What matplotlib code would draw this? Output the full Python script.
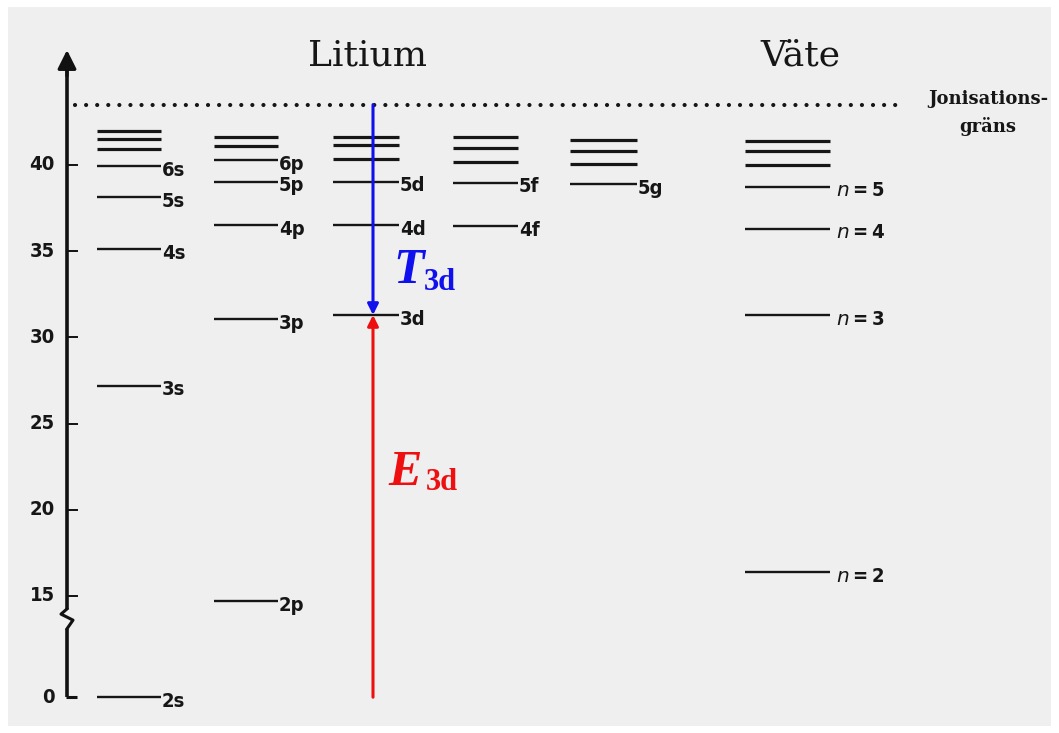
import matplotlib
matplotlib.use("Agg")
import matplotlib.pyplot as plt
from matplotlib.patches import Rectangle

# Energy levels (10^3 cm^-1) per term series
s_energy = [0.0, 27.2, 35.1, 38.15, 39.94, 40.9, 41.5, 42.0]
s_labels = ["2s", "3s", "4s", "5s", "6s"]
p_energy = [14.7, 31.05, 36.5, 39.03, 40.29, 41.12, 41.64]
p_labels = ["2p", "3p", "4p", "5p", "6p"]
d_energy = [31.3, 36.5, 39.03, 40.35, 41.16, 41.64]
d_labels = ["3d", "4d", "5d"]
f_energy = [36.47, 38.97, 40.19, 40.97, 41.6]
f_labels = ["4f", "5f"]
g_energy = [38.9, 40.06, 40.83, 41.45]
g_labels = ["5g"]
h_energy = [16.4, 31.3, 36.3, 38.75, 40.0, 40.83, 41.39]
h_labels = ["2", "3", "4", "5"]
ionization = 43.5
term_3d = 31.3
tick_values = [0, 15, 20, 25, 30, 35, 40]

# Broken axis: the ground state is drawn shifted up so the gap 0..15 is compressed
GROUND_SHIFT = 9.13


def ypos(e):
    return e + GROUND_SHIFT if e < 12 else e


W, H = 1059, 733
fig = plt.figure(figsize=(W / 100, H / 100), dpi=100, facecolor="white")
ax = fig.add_axes([0, 0, 1, 1])
ax.set_xlim(0, W)
ax.set_ylim(40 - 568 / 17.24, 40 + 165 / 17.24)
ax.axis("off")

# paper background
ax.add_patch(Rectangle((8 / W, 7 / H), (W - 16) / W, (H - 14) / H,
                       transform=ax.transAxes, facecolor="#efefef",
                       edgecolor="none", zorder=0))

INK = "#161616"
lab_font = dict(family="DejaVu Sans", fontsize=14.5, fontweight="bold",
                fontstretch="condensed", color=INK)


def draw_column(energies, labels, x0, x1, xl, fmt="{}"):
    for i, e in enumerate(energies):
        lw = 1.7 if i < len(labels) else 2.3
        ax.plot([x0, x1], [ypos(e), ypos(e)], color=INK, lw=lw,
                solid_capstyle="butt", zorder=3)
    for e, lab in zip(energies, labels):
        ax.annotate(fmt.format(lab), (xl, ypos(e)), xytext=(0, -3),
                    textcoords="offset points", ha="left", va="center",
                    zorder=4, **lab_font)


draw_column(s_energy, s_labels, 97, 161, 162)
draw_column(p_energy, p_labels, 214, 278, 279)
draw_column(d_energy, d_labels, 333, 399, 400)
draw_column(f_energy, f_labels, 453, 518, 519)
draw_column(g_energy, g_labels, 570, 637, 638)
draw_column(h_energy, h_labels, 745, 830, 836, fmt="$n$\u2009=\u2009{}")

# ionization limit
ax.plot([75, 905], [ionization, ionization], color=INK, lw=3.0,
        linestyle=(0, (0.01, 2.65)), dash_capstyle="round", zorder=3)
ax.text(988, 43.85, "Jonisations-", family="DejaVu Serif", fontweight="bold",
        fontsize=13, ha="center", va="center", color=INK)
ax.text(988, 42.25, "gräns", family="DejaVu Serif", fontweight="bold",
        fontsize=13, ha="center", va="center", color=INK)

# titles
ax.text(367, 46.35, "Litium", family="DejaVu Serif", fontsize=26,
        ha="center", va="center", color=INK)
ax.text(800, 46.35, "Väte", family="DejaVu Serif", fontsize=26,
        ha="center", va="center", color=INK)

# energy axis with break
xa = 67
top = 46.67
ax.plot([xa, xa], [14.25, top - 1.0], color="#111111", lw=2.6,
        solid_capstyle="butt", zorder=3)
ax.plot([xa, xa - 6, xa + 6, xa], [14.25, 13.95, 13.6, 13.1],
        color="#111111", lw=2.2, zorder=3)
ax.plot([xa, xa], [13.1, ypos(0)], color="#111111", lw=2.6, zorder=3,
        solid_capstyle="butt")
ax.plot([xa - 1, xa + 10], [ypos(0), ypos(0)], color="#111111", lw=2.2,
        zorder=3, solid_capstyle="butt")
ax.annotate("", xy=(xa, top), xytext=(xa, top - 1.5),
            arrowprops=dict(arrowstyle="-|>", color="#111111", lw=2.4,
                            mutation_scale=28, shrinkA=0, shrinkB=0),
            zorder=4)

for v in tick_values:
    y = ypos(v)
    if v != 0:
        ax.plot([xa, xa + 10], [y, y], color="#111111", lw=1.4, zorder=3)
    ax.text(xa - 12, y, str(v), ha="right", va="center", **lab_font)

# binding and excitation energy of the 3d term
ax.annotate("", xy=(373, term_3d), xytext=(373, ionization),
            arrowprops=dict(arrowstyle="-|>", color="#1010ee", lw=2.2,
                            mutation_scale=16, shrinkA=0, shrinkB=0),
            zorder=5)
ax.annotate("", xy=(373, term_3d), xytext=(373, ypos(0)),
            arrowprops=dict(arrowstyle="-|>", color="#ee1010", lw=2.2,
                            mutation_scale=16, shrinkA=0, shrinkB=0),
            zorder=5)

ax.text(393, 33.16, "T", family="Liberation Serif", fontweight="bold",
        fontstyle="italic", fontsize=36, color="#1010ee", ha="left",
        va="baseline")
ax.text(424, 32.75, "3d", family="Liberation Serif", fontweight="bold",
        fontsize=22, color="#1010ee", ha="left", va="baseline")
ax.text(388, 21.44, "E", family="Liberation Serif", fontweight="bold",
        fontstyle="italic", fontsize=36, color="#ee1010", ha="left",
        va="baseline")
ax.text(426, 21.15, "3d", family="Liberation Serif", fontweight="bold",
        fontsize=22, color="#ee1010", ha="left", va="baseline")

fig.savefig("out.png", dpi=100, facecolor="white")
